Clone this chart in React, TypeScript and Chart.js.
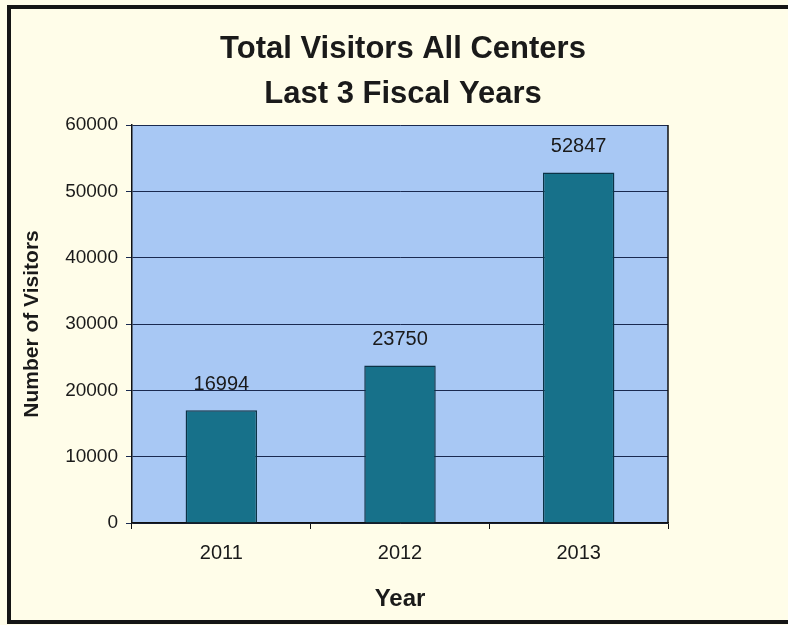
import React, { useEffect, useRef } from "react";
import { Chart, registerables } from "chart.js";

Chart.register(...registerables);

const categories = ["2011", "2012", "2013"];
const visitors = [16994, 23750, 52847];
const yTicks = [0, 10000, 20000, 30000, 40000, 50000, 60000];
const titleLines = ["Total Visitors All Centers", "Last 3 Fiscal Years"];
const xTitle = "Year";
const yTitle = "Number of Visitors";

const FONT = "Arial, 'Liberation Sans', Helvetica, sans-serif";

const plotBg = {
  id: "plotBg",
  beforeDraw(chart: any) {
    const { ctx, chartArea } = chart;
    ctx.save();
    ctx.fillStyle = "#a8c8f4";
    ctx.fillRect(chartArea.left, chartArea.top, chartArea.right - chartArea.left, chartArea.bottom - chartArea.top);
    ctx.restore();
  },
  afterDraw(chart: any) {
    const { ctx, chartArea } = chart;
    ctx.save();
    ctx.strokeStyle = "#111";
    ctx.lineWidth = 1.5;
    ctx.beginPath();
    ctx.moveTo(chartArea.right, chartArea.top);
    ctx.lineTo(chartArea.right, chartArea.bottom);
    ctx.stroke();
    // title
    ctx.font = `bold 31px ${FONT}`;
    ctx.fillStyle = "#1a1a1a";
    ctx.textAlign = "center";
    ctx.textBaseline = "middle";
    const cx = (chartArea.left + chartArea.right) / 2 + 3;
    titleLines.forEach((t, i) => {
      ctx.fillText(t, cx, chartArea.top - 76 + i * 45);
    });
    ctx.restore();
  },
};

const valueLabels = {
  id: "valueLabels",
  afterDatasetsDraw(chart: any) {
    const { ctx } = chart;
    const meta = chart.getDatasetMeta(0);
    ctx.save();
    ctx.font = `20px ${FONT}`;
    ctx.fillStyle = "#1a1a1a";
    ctx.textAlign = "center";
    ctx.textBaseline = "bottom";
    meta.data.forEach((bar: any, i: number) => {
      ctx.fillText(String(visitors[i]), bar.x, bar.y - 16);
    });
    ctx.restore();
  },
};

export default function App() {
  const ref = useRef<HTMLCanvasElement>(null);
  useEffect(() => {
    if (!ref.current) return;
    const chart = new Chart(ref.current, {
      type: "bar",
      data: {
        labels: categories,
        datasets: [
          {
            data: visitors,
            backgroundColor: "#17718a",
            borderColor: "#0c3346",
            borderWidth: 1.5,
            categoryPercentage: 0.4,
            barPercentage: 1,
          },
        ],
      },
      options: {
        responsive: false,
        animation: false,
        layout: { padding: { left: 14, right: 120, top: 125, bottom: 4 } },
        plugins: {
          legend: { display: false },
          tooltip: { enabled: false },
          title: { display: false },
        },
        scales: {
          x: {
            grid: { display: true, drawOnChartArea: false, offset: true, tickLength: 6, color: "#111" },
            border: { color: "#111", width: 1.5 },
            ticks: { color: "#1a1a1a", font: { family: FONT, size: 20 }, padding: 12 },
            title: {
              display: true,
              text: xTitle,
              color: "#1a1a1a",
              font: { family: FONT, size: 24, weight: "bold" },
              padding: { top: 0, bottom: 7 },
            },
            afterFit(scale: any) {
              scale.height = 625 - 4 - 523;
            },
          },
          y: {
            min: 0,
            max: 60000,
            afterBuildTicks(scale: any) {
              scale.ticks = yTicks.map((v) => ({ value: v }));
            },
            grid: { color: "#1a2a50", lineWidth: 1, tickLength: 6 },
            border: { color: "#111", width: 1.5 },
            ticks: {
              color: "#1a1a1a",
              font: { family: FONT, size: 19 },
              padding: 8,
              callback: (v: any) => String(v),
            },
            title: {
              display: true,
              text: yTitle,
              color: "#1a1a1a",
              font: { family: FONT, size: 21, weight: "bold" },
              padding: { top: 6, bottom: 0 },
            },
            afterFit(scale: any) {
              scale.width = 132 - 14;
            },
          },
        },
      },
      plugins: [plotBg, valueLabels],
    });
    return () => chart.destroy();
  }, []);

  return (
    <div style={{ position: "fixed", left: 0, top: 0, width: 788, height: 625, background: "#fffde9", overflow: "hidden" }}>
      <div
        style={{
          position: "absolute",
          left: 7,
          top: 5,
          width: 800,
          height: 611,
          borderLeft: "4px solid #151515",
          borderTop: "4px solid #151515",
          borderBottom: "4px solid #151515",
        }}
      />
      <canvas ref={ref} width={788} height={625} style={{ position: "absolute", left: 0, top: 0 }} />
    </div>
  );
}
